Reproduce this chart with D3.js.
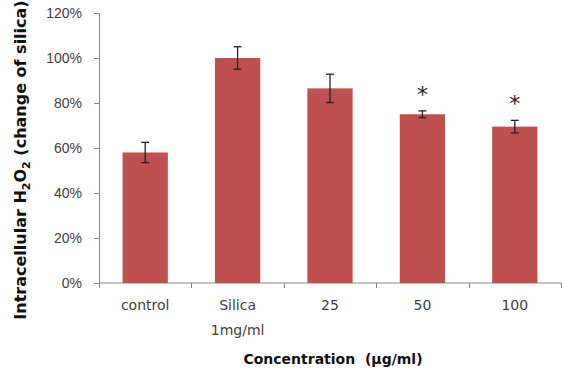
<!DOCTYPE html>
<html>
<head>
<meta charset="utf-8">
<script src="https://cdn.jsdelivr.net/npm/d3@7"></script>
<style>
  body { margin: 0; background: #fff; }
  svg { display: block; font-family: "DejaVu Sans", Verdana, sans-serif; }
</style>
</head>
<body>
<script>
// données
const categories = ['control', 'Silica', '25', '50', '100'];
const subLabels = ['', '1mg/ml', '', '', ''];
const values = [0.58, 1.00, 0.865, 0.75, 0.695];
const errors = [0.045, 0.05, 0.063, 0.015, 0.028];
const signif = [false, false, false, true, true];
const yTicks = [0, 0.2, 0.4, 0.6, 0.8, 1.0, 1.2];

const W = 562, H = 373;
const margin = { top: 13, right: 1, bottom: 90, left: 99 };
const width = W - margin.left - margin.right,
    height = H - margin.top - margin.bottom;

const svg = d3.select('body')
    .append('svg')
    .attr('width', W)
    .attr('height', H);

const g = svg.append('g')
    .attr('transform', `translate(${margin.left}, ${margin.top})`);

// échelles
const x = d3.scaleBand()
    .domain(categories)
    .range([0, width])
    .paddingInner(0.51)
    .paddingOuter(0.255);

const y = d3.scaleLinear()
    .domain([0, 1.2])
    .range([height, 0]);

// axe Y
const yAxis = g.append('g')
    .call(d3.axisLeft(y).tickValues(yTicks).tickSize(5).tickPadding(12).tickFormat(d3.format('.0%')));

// axe X, avec les graduations entre les catégories
const step = x.step();
const xAxis = g.append('g')
    .attr('transform', `translate(0, ${height})`);

xAxis.append('line')
    .attr('x1', 0).attr('x2', width)
    .attr('stroke', '#868686');

xAxis.selectAll('.sep')
    .data(d3.range(categories.length + 1))
    .join('line')
    .attr('class', 'sep')
    .attr('x1', i => Math.round(i * step) + 0.5)
    .attr('x2', i => Math.round(i * step) + 0.5)
    .attr('y1', 0).attr('y2', 5)
    .attr('stroke', '#868686');

xAxis.selectAll('.lab')
    .data(categories)
    .join('text')
    .attr('class', 'lab')
    .attr('x', d => x(d) + x.bandwidth() / 2)
    .attr('y', 27)
    .attr('text-anchor', 'middle')
    .attr('font-size', 14)
    .attr('fill', '#404040')
    .text(d => d);

xAxis.selectAll('.sub')
    .data(categories)
    .join('text')
    .attr('class', 'sub')
    .attr('x', d => x(d) + x.bandwidth() / 2)
    .attr('y', 52)
    .attr('text-anchor', 'middle')
    .attr('font-size', 14)
    .attr('fill', '#404040')
    .text((d, i) => subLabels[i]);

// Trop de style
yAxis.selectAll('.domain, .tick line').attr('stroke', '#868686');
yAxis.selectAll('.tick text')
    .attr('font-size', 14)
    .attr('fill', '#404040');

// barres
g.selectAll('rect.bar')
    .data(categories)
    .join('rect')
    .attr('class', 'bar')
    .attr('x', d => x(d))
    .attr('y', (d, i) => y(values[i]))
    .attr('width', x.bandwidth())
    .attr('height', (d, i) => height - y(values[i]))
    .attr('fill', '#C0504D');

// barres d'erreur
const eb = g.selectAll('g.err')
    .data(categories)
    .join('g')
    .attr('class', 'err')
    .attr('transform', d => `translate(${x(d) + x.bandwidth() / 2}, 0)`);

eb.append('line')
    .attr('y1', (d, i) => y(values[i] + errors[i]))
    .attr('y2', (d, i) => y(values[i] - errors[i]))
    .attr('stroke', '#222').attr('stroke-width', 1.3);

eb.append('line')
    .attr('x1', -4).attr('x2', 4)
    .attr('y1', (d, i) => y(values[i] + errors[i]))
    .attr('y2', (d, i) => y(values[i] + errors[i]))
    .attr('stroke', '#222').attr('stroke-width', 1.3);

eb.append('line')
    .attr('x1', -4).attr('x2', 4)
    .attr('y1', (d, i) => y(values[i] - errors[i]))
    .attr('y2', (d, i) => y(values[i] - errors[i]))
    .attr('stroke', '#222').attr('stroke-width', 1.3);

// astérisques
eb.filter((d, i) => signif[i])
    .append('text')
    .attr('y', d => {
        const k = categories.indexOf(d);
        return y(values[k] + errors[k]) - 9;
    })
    .attr('text-anchor', 'middle')
    .attr('font-size', 22)
    .attr('fill', '#222')
    .text('*');

// titres des axes
const yTitle = svg.append('text')
    .attr('transform', `translate(26, 160) rotate(-90)`)
    .attr('text-anchor', 'middle')
    .attr('font-size', 16)
    .attr('font-weight', 'bold')
    .attr('fill', '#111');
yTitle.append('tspan').text('Intracellular H');
yTitle.append('tspan').attr('font-size', 11).attr('dy', 4).text('2');
yTitle.append('tspan').attr('dy', -4).text('O');
yTitle.append('tspan').attr('font-size', 11).attr('dy', 4).text('2');
yTitle.append('tspan').attr('dy', -4).text(' (change of silica)');

svg.append('text')
    .attr('x', 333)
    .attr('y', 364)
    .attr('text-anchor', 'middle')
    .attr('font-size', 14)
    .attr('font-weight', 'bold')
    .attr('fill', '#111')
    .style('white-space', 'pre')
    .text('Concentration  (\u03BCg/ml)');
</script>
</body>
</html>
